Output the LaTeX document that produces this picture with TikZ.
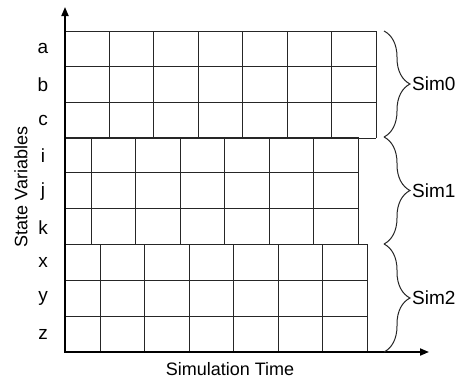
\documentclass[tikz,border=0pt]{standalone}
\usepackage{fontspec}
\setmainfont{Liberation Sans}
\usetikzlibrary{arrows.meta,decorations.pathreplacing}
\begin{document}
\begin{tikzpicture}[x=1pt,y=-1pt,
  cell/.style={draw=black!85, line width=1pt},
  axisline/.style={draw=black, line width=1.8pt},
  lab/.style={font=\fontsize{19}{21}\selectfont, inner sep=0pt},
  title/.style={font=\fontsize{18}{20}\selectfont, inner sep=0pt},
  brc/.style={draw=black!85, line width=1pt, decorate, decoration={brace, amplitude=26pt}}]
\useasboundingbox (0,0) rectangle (462,383);
% Sim0 block
\foreach \r in {0,...,3} \draw[cell] (65,31+\r*35.667) -- (376,31+\r*35.667);
\foreach \c in {0,...,7} \draw[cell] (65+\c*44.43,31) -- (65+\c*44.43,138);
% Sim1 block
\foreach \r in {0,...,3} \draw[cell] (65,137+\r*35.667) -- (358,137+\r*35.667);
\foreach \c in {0,...,6} \draw[cell] (91+\c*44.5,137) -- (91+\c*44.5,244);
% Sim2 block
\foreach \r in {0,...,3} \draw[cell] (65,244+\r*36) -- (367,244+\r*36);
\foreach \c in {0,...,6} \draw[cell] (100+\c*44.5,244) -- (100+\c*44.5,352);
% axes
\coordinate (O) at (65,352);
\coordinate (ytip) at (65,7);
\coordinate (xtip) at (429,352);
\draw[axisline, {Triangle[length=9pt,width=7pt]}-{Triangle[length=9pt,width=7pt]}] (ytip) -- (O) -- (xtip);
% row labels
\node[lab] (la) at (43,48.8) {a};
\node[lab] (lb) at (43,84.5) {b};
\node[lab] (lc) at (43,120.2) {c};
\node[lab] (li) at (43,155.8) {i};
\node[lab] (lj) at (43,191.5) {j};
\node[lab] (lk) at (43,227.2) {k};
\node[lab] (lx) at (43,262.8) {x};
\node[lab] (ly) at (43,298.5) {y};
\node[lab] (lz) at (43,334.2) {z};
% axis titles
\node[title, rotate=90] (sv) at (21,187) {State Variables};
\node[title] (st) at (230,369) {Simulation Time};
% braces
\coordinate (b0t) at (384,31);  \coordinate (b0b) at (384,137);
\coordinate (b1t) at (384,137); \coordinate (b1b) at (384,244);
\coordinate (b2t) at (384,244); \coordinate (b2b) at (384,352);
\draw[brc] (b0t) -- (b0b);
\draw[brc] (b1t) -- (b1b);
\draw[brc] (b2t) -- (b2b);
\node[lab, anchor=west] (s0) at (412,84) {Sim0};
\node[lab, anchor=west] (s1) at (412,190.5) {Sim1};
\node[lab, anchor=west] (s2) at (412,298) {Sim2};
\end{tikzpicture}
\end{document}
